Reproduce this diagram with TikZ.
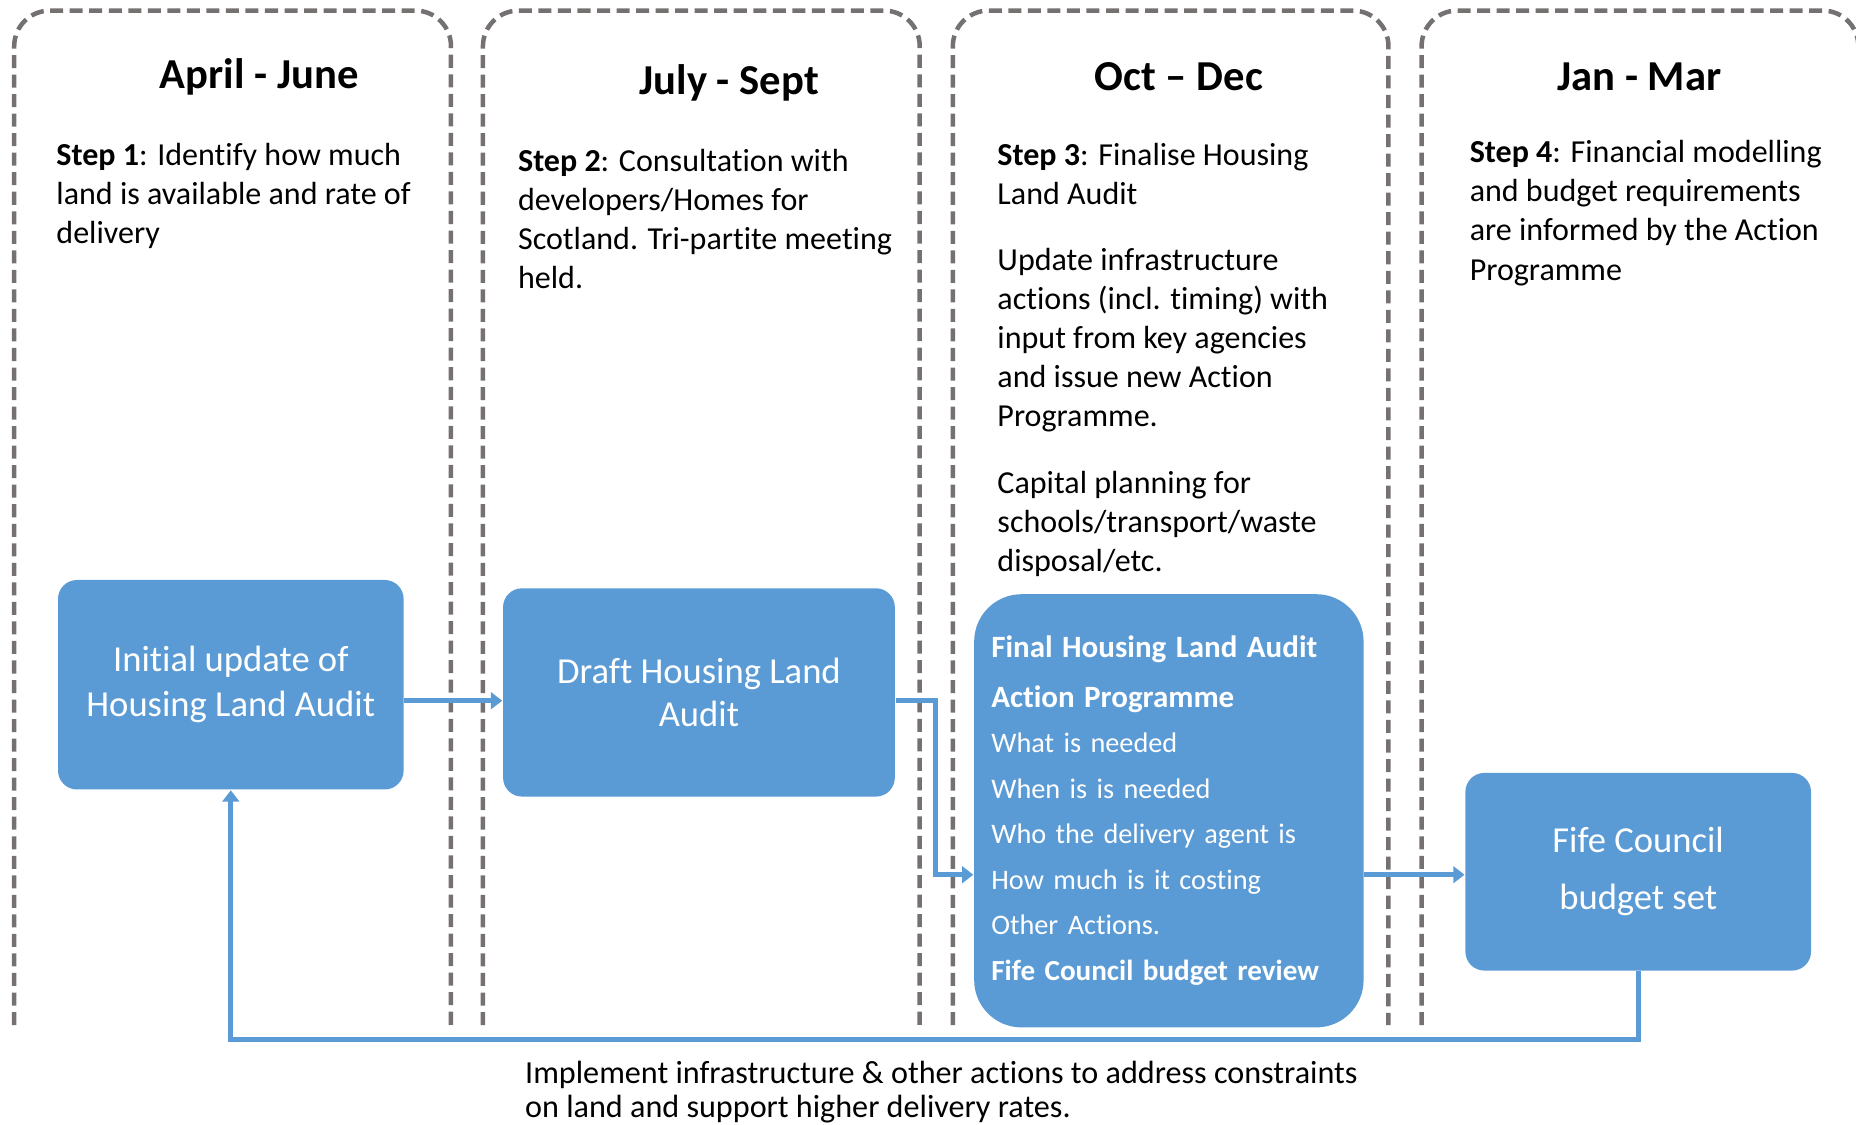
\documentclass[tikz,border=0pt]{standalone}
\usepackage{fontspec}
\setmainfont{Carlito}[Ligatures=NoCommon]
\usepackage{tikz}
\usetikzlibrary{calc,math,arrows.meta}
\usepackage{color}
\definecolor{fifeblue}{HTML}{5B9BD5}
\definecolor{lanegray}{HTML}{767171}
\newcommand{\boxhead}[2][7.45pt]{{\fontsize{#1}{10.95pt}\selectfont\textbf{#2}}}

\begin{document}
\begin{tikzpicture}
[x=0.1mm,y=-0.1mm,>={Triangle[length=0.95mm,width=1.4mm]},
lane/.style={draw=lanegray,line width=0.38mm,dash pattern=on 1.1mm off 0.55mm,rounded corners=3mm},
box/.style={fill=fifeblue,text=white,rounded corners=1.6mm,inner sep=0pt,align=center,font=\fontsize{8.8pt}{10.2pt}\selectfont},
head/.style={inner sep=0pt,font=\bfseries\fontsize{10.25pt}{12pt}\selectfont},
note/.style={anchor=north west,inner sep=0pt,align=left,font=\fontsize{7.7pt}{9.4pt}\selectfont},
flow/.style={draw=fifeblue,line width=0.42mm,->},]

\useasboundingbox (0,0) rectangle (1568,950);
\clip (0,0) rectangle (1568,950);

%Quarter columns: left and right edges, top and foot
\tikzmath{\qla = 12; \qra = 381; \qlb = 408; \qrb = 777; \qlc = 805; \qrc = 1173; \qld = 1201; \qrd = 1570; \qtop = 9; \qfoot = 866;}
\draw[lane] (\qla,\qfoot) |- ({(\qla+\qra)/2},\qtop) -| (\qra,\qfoot);
\draw[lane] (\qlb,\qfoot) |- ({(\qlb+\qrb)/2},\qtop) -| (\qrb,\qfoot);
\draw[lane] (\qlc,\qfoot) |- ({(\qlc+\qrc)/2},\qtop) -| (\qrc,\qfoot);
\draw[lane] (\qld,\qfoot) |- ({(\qld+\qrd)/2},\qtop) -| (\qrd,\qfoot);

%Quarter headings
\node[head] (apr) at (219,65) {April - June};
\node[head] (jul) at (616,70) {July - Sept};
\node[head] (oct) at (996,65) {Oct -- Dec};
\node[head] (jan) at (1385,65) {Jan - Mar};

%Step descriptions
\node[note] (step1) at (47,120) {\textbf{Step 1}: Identify how much\\land is available and rate of\\delivery};
\node[note] (step2) at (437,125) {\textbf{Step 2}: Consultation with\\developers/Homes for\\Scotland. Tri-partite meeting\\held.};
\node[note] (step3) at (842,120) {\textbf{Step 3}: Finalise Housing\\Land Audit\\[2.3mm]Update infrastructure\\actions (incl. timing) with\\input from key agencies\\and issue new Action\\Programme.\\[2.3mm]Capital planning for\\schools/transport/waste\\disposal/etc.};
\node[note] (step4) at (1241,118) {\textbf{Step 4}: Financial modelling\\and budget requirements\\are informed by the Action\\Programme};

%Process boxes
\node[box,minimum width=29.2mm,minimum height=17.7mm] (initial) at (195,578.5) {Initial update of\\[0.2mm]Housing Land Audit};
\node[box,minimum width=33.1mm,minimum height=17.6mm] (draft) at (590.5,585) {Draft Housing Land\\Audit};
\node[box,rounded corners=4mm,minimum width=32.9mm,minimum height=36.6mm,text width=30mm,align=left,font=\fontsize{6.8pt}{10.95pt}\selectfont] (final) at (987.5,685) {\boxhead{Final Housing Land Audit}\\[0.3mm]\boxhead{Action Programme}\\What is needed\\When is is needed\\Who the delivery agent is\\How much is it costing\\Other Actions.\\\mbox{\boxhead[7pt]{Fife Council budget review}}};
\node[box,minimum width=29.2mm,minimum height=16.7mm,font=\fontsize{8.8pt}{13.7pt}\selectfont] (fife) at (1384,736.5) {Fife Council\\budget set};

%Connectors
\coordinate (a1) at (383,592);
\coordinate (bend) at (790,739);
\coordinate (ret) at (0,878);
\draw[flow] (initial.east |- a1) -- (draft.west |- a1);
\draw[flow] (draft.east |- a1) -| (bend) -- (final.west |- bend);
\draw[flow] (final.east |- bend) -- (fife.west |- bend);
\draw[flow] (fife.south) -- (fife.south |- ret) -- (initial.south |- ret) -- (initial.south);

\node[note,font=\fontsize{7.73pt}{8.2pt}\selectfont] (impl) at (443,896) {Implement infrastructure \& other actions to address constraints\\on land and support higher delivery rates.};

\end{tikzpicture}
\end{document}
